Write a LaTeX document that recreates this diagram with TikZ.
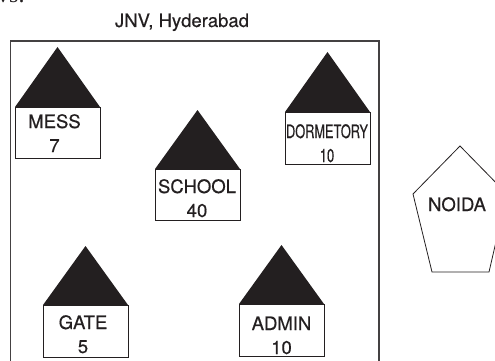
\documentclass[tikz,border=0pt]{standalone}
\usepackage{fontspec}
\usepackage{xcolor}
\setmainfont{Liberation Sans}
\newfontfamily\topfont{Liberation Serif}
\newfontfamily\hutfont[FakeBold=0.5]{TeX Gyre Heros}
\definecolor{jnvDark}{HTML}{231F20}
\tikzset{
  wall/.style={jnvDark!85,line width=1.1pt},
  roof/.style={fill=jnvDark,draw=none},
  hut/.style={draw=jnvDark,fill=white,line width=1pt},
  hutlabel/.style={anchor=base,inner sep=0pt,text=jnvDark,font=\hutfont\fontsize{18.5}{20}\selectfont},
}

\begin{document}
\begin{tikzpicture}[x=1pt,y=-1pt]
% args: name, left, apex y, eave y, floor y, label x, label y, label, count
\newcommand{\jnvhut}[9]{%
  \fill[roof] (#2,#4) -- (#2+42.5,#3) -- (#2+85,#4) -- cycle;
  \draw[hut] (#2,#4) rectangle (#2+85,#5);
  \node[hutlabel] (#1label) at (#6,#7) {#8};
  \node[hutlabel] (#1count) at (#6,#7+24) {#9};
}
\clip (0,0) rectangle (495,361);
\node[anchor=base west,inner sep=0pt,text=jnvDark,font=\topfont\fontsize{24}{26}\selectfont] (top) at (-3,3) {vs.};
\node[hutlabel] (campus) at (182,27) {JNV, Hyderabad};
\draw[wall] (10.5,365) -- (10.5,41) -- (379,41) -- (379,365);

\jnvhut{mess}{15}{47}{107}{158}{54.5}{128}{MESS}{7}
\jnvhut{school}{155}{110}{169}{220}{197}{193}{SCHOOL}{40}
\jnvhut{dorm}{285}{52}{112}{164}{327}{138}{\scalebox{0.69}[1]{DORMETORY}}{\scalebox{0.7}[1]{10}}
\jnvhut{gate}{43}{246}{305}{357}{83}{329}{GATE}{5}
\jnvhut{admin}{239}{245}{304}{356}{281.5}{330}{ADMIN}{10}

\draw[jnvDark,line width=0.8pt] (460,146) -- (507,194) -- (489,272) -- (432,272) -- (413,194) -- cycle;
\node[hutlabel] (noida) at (457,211) {NOIDA};
\end{tikzpicture}
\end{document}
